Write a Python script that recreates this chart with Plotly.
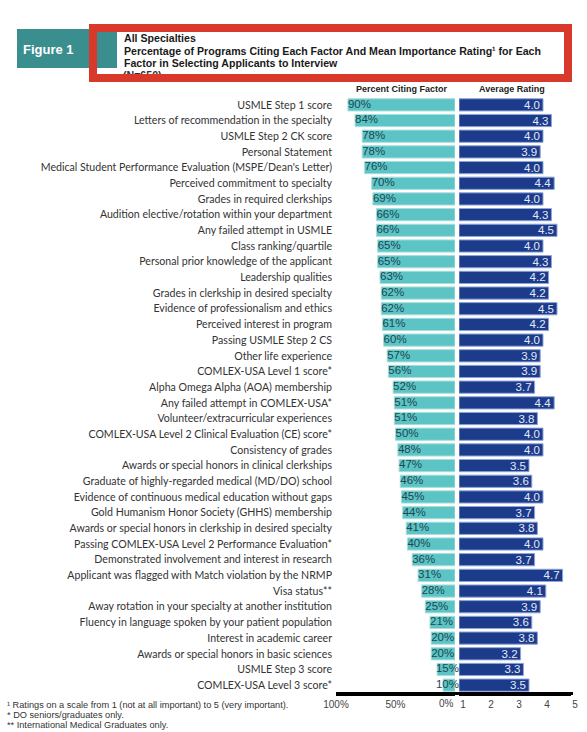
import plotly.graph_objects as go

W, H = 587, 732

factors = [
    "USMLE Step 1 score",
    "Letters of recommendation in the specialty",
    "USMLE Step 2 CK score",
    "Personal Statement",
    "Medical Student Performance Evaluation (MSPE/Dean's Letter)",
    "Perceived commitment to specialty",
    "Grades in required clerkships",
    "Audition elective/rotation within your department",
    "Any failed attempt in USMLE",
    "Class ranking/quartile",
    "Personal prior knowledge of the applicant",
    "Leadership qualities",
    "Grades in clerkship in desired specialty",
    "Evidence of professionalism and ethics",
    "Perceived interest in program",
    "Passing USMLE Step 2 CS",
    "Other life experience",
    "COMLEX-USA Level 1 score*",
    "Alpha Omega Alpha (AOA) membership",
    "Any failed attempt in COMLEX-USA*",
    "Volunteer/extracurricular experiences",
    "COMLEX-USA Level 2 Clinical Evaluation (CE) score*",
    "Consistency of grades",
    "Awards or special honors in clinical clerkships",
    "Graduate of highly-regarded medical (MD/DO) school",
    "Evidence of continuous medical education without gaps",
    "Gold Humanism Honor Society (GHHS) membership",
    "Awards or special honors in clerkship in desired specialty",
    "Passing COMLEX-USA Level 2 Performance Evaluation*",
    "Demonstrated involvement and interest in research",
    "Applicant was flagged with Match violation by the NRMP",
    "Visa status**",
    "Away rotation in your specialty at another institution",
    "Fluency in language spoken by your patient population",
    "Interest in academic career",
    "Awards or special honors in basic sciences",
    "USMLE Step 3 score",
    "COMLEX-USA Level 3 score*",
]

pct_citing = [90, 84, 78, 78, 76, 70, 69, 66, 66, 65, 65, 63, 62, 62, 61, 60, 57, 56, 52,
              51, 51, 50, 48, 47, 46, 45, 44, 41, 40, 36, 31, 28, 25, 21, 20, 20, 15, 10]

avg_rating = [4.0, 4.3, 4.0, 3.9, 4.0, 4.4, 4.0, 4.3, 4.5, 4.0, 4.3, 4.2, 4.2, 4.5, 4.2, 4.0,
              3.9, 3.9, 3.7, 4.4, 3.8, 4.0, 4.0, 3.5, 3.6, 4.0, 3.7, 3.8, 4.0, 3.7, 4.7, 4.1,
              3.9, 3.6, 3.8, 3.2, 3.3, 3.5]

pct_ticks = [100, 50]
pct_ticklabels = ["100%", "50%"]
rating_ticks = [1, 2, 3, 4, 5]


def px_x(p):
    return p / W


def px_y(p):
    return 1 - p / H


TEAL = "#5dc4c5"
NAVY = "#1d3b8b"
n = len(factors)

fig = go.Figure()

# left panel: percent citing
fig.add_trace(go.Bar(
    x=pct_citing, y=factors, orientation="h",
    marker=dict(color=TEAL, line=dict(color="#a8dede", width=1)),
    xaxis="x", yaxis="y", hoverinfo="x+y",
))
# percent labels, kept from running past the 0% edge on short bars
fig.add_trace(go.Scatter(
    x=[max(v, 16) for v in pct_citing], y=factors, mode="text",
    text=[f"{v}%" for v in pct_citing], textposition="middle right",
    textfont=dict(family="Liberation Sans", size=11.5, color="#1b4852"),
    xaxis="x", yaxis="y", cliponaxis=False, hoverinfo="skip",
))

# right panel: average rating (bars start at 1)
fig.add_trace(go.Bar(
    x=[r - 1 for r in avg_rating], base=1, y=factors, orientation="h",
    marker=dict(color=NAVY, line=dict(color="#8ea4da", width=1)),
    text=[f"{r:.1f}" for r in avg_rating], textposition="inside",
    insidetextanchor="end", constraintext="none",
    textfont=dict(family="Liberation Sans", size=11.5, color="#e4eaf7"),
    xaxis="x2", yaxis="y2", hoverinfo="y+text",
))

# header text partly hidden under the red frame
fig.add_trace(go.Scatter(
    x=[123], y=[76.5], mode="text", text=["<b>(N=650)</b>"], textposition="middle right",
    textfont=dict(family="Liberation Sans", size=10.6, color="#333333"),
    xaxis="x3", yaxis="y3", hoverinfo="skip", cliponaxis=False,
))

ydom = [px_y(693), px_y(97)]
axis_font = dict(family="Liberation Sans", size=10, color="#444444")

fig.update_layout(
    width=W, height=H,
    margin=dict(l=0, r=0, t=0, b=0),
    paper_bgcolor="white", plot_bgcolor="white",
    template="none", showlegend=False, bargap=0.22,
    xaxis=dict(domain=[px_x(336), px_x(455)], range=[100, 0], tickvals=pct_ticks,
               ticktext=pct_ticklabels, tickfont=axis_font, showgrid=False, zeroline=False,
               showline=True, linecolor="black", linewidth=3, ticks="", automargin=False,
               anchor="y", ticklabelstandoff=0),
    yaxis=dict(domain=ydom, categoryorder="array", categoryarray=factors,
               range=[n - 0.5, -0.5], showgrid=False, zeroline=False, ticks="",
               showline=False, tickfont=dict(family="Lato", size=10.6, color="#333333"),
               automargin=False, ticklabelstandoff=3, anchor="x"),
    xaxis2=dict(domain=[px_x(459), px_x(571)], range=[1, 5], tickvals=rating_ticks,
                tickfont=axis_font, showgrid=False, zeroline=False, showline=True,
                linecolor="black", linewidth=3, ticks="", automargin=False, anchor="y2",
                ticklabelshift=4, ticklabelstandoff=0),
    yaxis2=dict(domain=ydom, matches="y", showticklabels=False, showgrid=False,
                zeroline=False, ticks="", showline=False, anchor="x2", automargin=False),
    xaxis3=dict(domain=[0, 1], range=[0, W], visible=False, fixedrange=True, anchor="y3"),
    yaxis3=dict(domain=[px_y(86), 1], range=[86, 0], visible=False, fixedrange=True,
                anchor="x3"),
)

shapes = [
    # baseline under both panels
    dict(type="line", xref="paper", yref="paper", x0=px_x(336), x1=px_x(573),
         y0=px_y(693.5), y1=px_y(693.5), line=dict(color="black", width=3),
         layer="above"),
    dict(type="rect", xref="paper", yref="paper", x0=px_x(17), x1=px_x(117),
         y0=px_y(68), y1=px_y(29), fillcolor="#3a8e8e", line=dict(width=0), layer="above"),
    dict(type="rect", xref="paper", yref="paper", x0=px_x(93), x1=px_x(568),
         y0=px_y(78), y1=px_y(28), fillcolor="rgba(0,0,0,0)",
         line=dict(color="#d8392b", width=8), layer="above"),
]
fig.update_layout(shapes=shapes)

title_font = dict(family="Liberation Sans", size=10.6, color="#1a1a1a")
head_lines = [
    "<b>All Specialties</b>",
    "<b>Percentage of Programs Citing Each Factor And Mean Importance Rating¹ for Each</b>",
    "<b>Factor in Selecting Applicants to Interview</b>",
]
annotations = []
for i, line in enumerate(head_lines):
    annotations.append(dict(text=line, xref="paper", yref="paper", x=px_x(122),
                            y=px_y(38 + 12.6 * i), xanchor="left", yanchor="middle",
                            showarrow=False, font=title_font))
annotations += [
    # the 0% tick label sits flush against the panel edge
    dict(text="0%", xref="x", yref="paper", x=0, y=px_y(703), xanchor="right",
         yanchor="middle", showarrow=False, xshift=1, font=axis_font),
    dict(text="<b>Figure 1</b>", xref="paper", yref="paper", x=px_x(48), y=px_y(50),
         xanchor="center", yanchor="middle", showarrow=False,
         font=dict(family="Liberation Sans", size=13, color="white")),
    dict(text="<b>Percent Citing Factor</b>", xref="paper", yref="paper", x=px_x(402),
         y=px_y(89), xanchor="center", yanchor="middle", showarrow=False,
         font=dict(family="Liberation Sans", size=9, color="#222222")),
    dict(text="<b>Average Rating</b>", xref="paper", yref="paper", x=px_x(512),
         y=px_y(89), xanchor="center", yanchor="middle", showarrow=False,
         font=dict(family="Liberation Sans", size=9, color="#222222")),
]
notes = [
    "¹ Ratings on a scale from 1 (not at all important) to 5 (very important).",
    "* DO seniors/graduates only.",
    "** International Medical Graduates only.",
]
for i, line in enumerate(notes):
    annotations.append(dict(text=line, xref="paper", yref="paper", x=px_x(5),
                            y=px_y(705 + 10 * i), xanchor="left", yanchor="middle",
                            showarrow=False,
                            font=dict(family="Liberation Sans", size=9.2, color="#333333")))
fig.update_layout(annotations=annotations)

fig.write_html("out.html", config={"displayModeBar": False},
               post_script="document.body.style.margin='0';"
                           "document.body.style.overflow='hidden';")
